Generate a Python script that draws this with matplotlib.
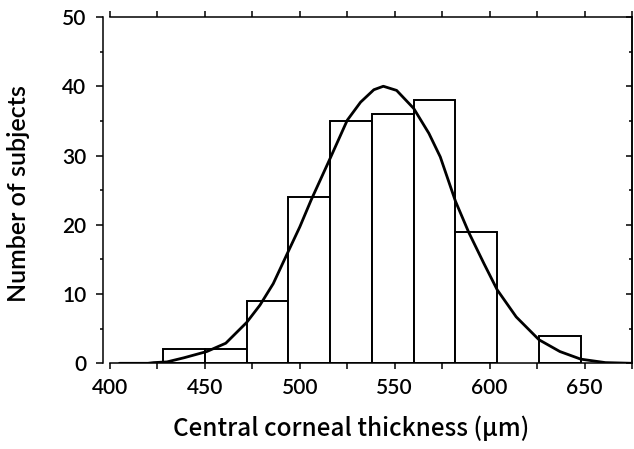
import matplotlib
matplotlib.use("Agg")
import matplotlib.pyplot as plt
from matplotlib.ticker import MultipleLocator
import numpy as np

# ---- data ----
bin_edges = [428, 450, 472, 494, 516, 538, 560, 582, 604, 626, 648]
counts = [2, 2, 9, 24, 35, 36, 38, 19, 0, 4]

curve_x = [405, 420, 423, 430, 439, 451, 461, 472, 479, 486, 494, 500, 506,
           516, 525, 532, 539, 544, 551, 560, 568, 574, 582, 589, 597, 604,
           614, 626, 637, 648, 661, 675]
curve_y = [0, 0, 0.1, 0.2, 0.8, 1.7, 2.9, 5.9, 8.4, 11.5, 16.2, 19.7, 23.6,
           29.6, 35.1, 37.7, 39.5, 40.0, 39.4, 36.8, 33.2, 29.8, 23.4, 18.9,
           14.4, 10.6, 6.7, 3.4, 1.7, 0.6, 0.1, 0]

xlabel = "Central corneal thickness (\u03bcm)"
ylabel = "Number of subjects"

fig = plt.figure(figsize=(6.34, 4.49), dpi=100)
W, H = 634, 449
L, R, T, B = 110, 632, 17, 363.3
ax = fig.add_axes([L / W, 1 - B / H, (R - L) / W, (B - T) / H])

lefts = bin_edges[:-1]
widths = np.diff(bin_edges)
for x0, w, c in zip(lefts, widths, counts):
    if c > 0:
        ax.bar(x0, c, width=w, align='edge', facecolor='white',
               edgecolor='black', linewidth=1.4, zorder=2)

ax.plot(curve_x, curve_y, color='black', linewidth=2.0, zorder=3,
        solid_capstyle='round', solid_joinstyle='round')

ax.set_xlim(400, 675)
ax.set_ylim(0, 50)

ax.spines['left'].set_position(('outward', 5))
for s in ax.spines.values():
    s.set_linewidth(1.1)

ax.xaxis.set_major_locator(MultipleLocator(50))
ax.xaxis.set_minor_locator(MultipleLocator(25))
ax.yaxis.set_major_locator(MultipleLocator(10))
ax.yaxis.set_minor_locator(MultipleLocator(5))

tickfont = 'Lato'
ax.tick_params(axis='x', which='both', direction='out', top=True,
               bottom=True, length=4.5, width=1.1)
ax.tick_params(axis='x', which='major', pad=6, labelsize=15)
ax.tick_params(axis='y', which='major', direction='out', length=5,
               width=1.1, pad=7, labelsize=15)
ax.tick_params(axis='y', which='minor', direction='out', length=2.5,
               width=1.1)
for lab in ax.get_xticklabels() + ax.get_yticklabels():
    lab.set_fontfamily(tickfont)
    lab.set_fontweight('semibold')

# right side ticks (inward)
sec = ax.secondary_yaxis('right')
sec.yaxis.set_major_locator(MultipleLocator(10))
sec.yaxis.set_minor_locator(MultipleLocator(5))
sec.tick_params(axis='y', which='major', direction='in', length=4,
                labelright=False, width=1.1)
sec.tick_params(axis='y', which='minor', direction='in', length=2.5,
                labelright=False, width=1.1)
sec.spines['right'].set_linewidth(1.1)

ax.set_xlabel(xlabel, fontsize=17.5, fontweight='medium',
              family=['Noto Sans CJK JP', 'DejaVu Sans'])
ax.xaxis.set_label_coords((351 - L) / (R - L), (B - 416) / (B - T))
ax.set_ylabel(ylabel, fontsize=18, fontweight='semibold', family='Lato')
ax.yaxis.set_label_coords((30 - L) / (R - L), (B - 193.5) / (B - T))

fig.savefig("out.png", dpi=100, facecolor='white')
